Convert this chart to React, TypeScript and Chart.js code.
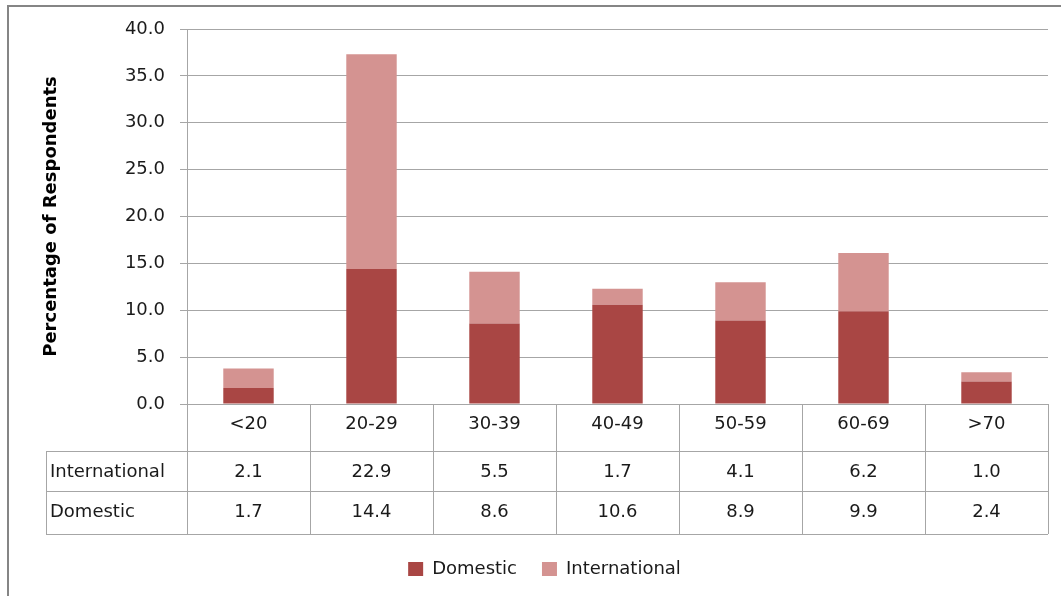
import React, { useEffect, useRef } from "react";
import { Chart, registerables } from "chart.js";

Chart.register(...registerables);

const categories = ["<20", "20-29", "30-39", "40-49", "50-59", "60-69", ">70"];
const domesticValues = [1.7, 14.4, 8.6, 10.6, 8.9, 9.9, 2.4];
const internationalValues = [2.1, 22.9, 5.5, 1.7, 4.1, 6.2, 1.0];
const yTicks = [0, 5, 10, 15, 20, 25, 30, 35, 40];

const FONT = "'DejaVu Sans', sans-serif";
const FONT_SIZE = 18;
const GRID = "#A6A6A6";
const TEXT = "#1a1a1a";
const DOM_COLOR = "#A94644";
const INT_COLOR = "#D49391";

const tablePlugin = {
  id: "dataTable",
  beforeDraw(chart: any) {
    const ctx = chart.ctx;
    ctx.save();
    ctx.fillStyle = "#ffffff";
    ctx.fillRect(0, 0, chart.width, chart.height);
    ctx.strokeStyle = "#858585";
    ctx.lineWidth = 2;
    ctx.strokeRect(8, 6, 1200, 900);
    ctx.restore();
  },
  afterDraw(chart: any) {
    const ctx = chart.ctx;
    const area = chart.chartArea;
    const xs = chart.scales.x;
    const n = categories.length;
    const colW = (area.right - area.left) / n;
    const top = area.bottom;
    const r1 = top + 47;
    const r2 = r1 + 40;
    const r3 = r2 + 43;
    const tableLeft = 46;
    ctx.save();
    ctx.strokeStyle = GRID;
    ctx.lineWidth = 1;
    ctx.beginPath();
    for (let i = 0; i <= n; i++) {
      const px = Math.round(area.left + i * colW) + 0.5;
      ctx.moveTo(px, top);
      ctx.lineTo(px, r3);
    }
    [r1, r2, r3].forEach((yy) => {
      const py = Math.round(yy) + 0.5;
      ctx.moveTo(tableLeft, py);
      ctx.lineTo(area.right, py);
    });
    ctx.moveTo(tableLeft + 0.5, r1);
    ctx.lineTo(tableLeft + 0.5, r3);
    ctx.stroke();

    const rows = [
      { label: "International", values: internationalValues, y: (r1 + r2) / 2 + 1 },
      { label: "Domestic", values: domesticValues, y: (r2 + r3) / 2 },
    ];
    ctx.fillStyle = TEXT;
    ctx.font = `${FONT_SIZE}px ${FONT}`;
    ctx.textBaseline = "middle";
    rows.forEach((row) => {
      ctx.textAlign = "left";
      ctx.fillText(row.label, tableLeft + 4, row.y);
      ctx.textAlign = "center";
      row.values.forEach((v, i) => {
        ctx.fillText(v.toFixed(1), xs.getPixelForValue(i), row.y);
      });
    });
    ctx.restore();
  },
};

export default function App() {
  const ref = useRef<HTMLCanvasElement>(null);
  useEffect(() => {
    const chart = new Chart(ref.current as HTMLCanvasElement, {
      type: "bar",
      data: {
        labels: categories,
        datasets: [
          {
            label: "Domestic",
            data: domesticValues,
            backgroundColor: DOM_COLOR,
            borderWidth: 0,
            barPercentage: 0.41,
            categoryPercentage: 1,
          },
          {
            label: "International",
            data: internationalValues,
            backgroundColor: INT_COLOR,
            borderWidth: 0,
            barPercentage: 0.41,
            categoryPercentage: 1,
          },
        ],
      },
      options: {
        animation: false,
        responsive: false,
        maintainAspectRatio: false,
        layout: { padding: { left: 41, top: 29, right: 13, bottom: 25 } },
        plugins: {
          tooltip: { enabled: false },
          legend: {
            position: "bottom",
            labels: {
              font: { family: FONT, size: FONT_SIZE },
              color: TEXT,
              boxWidth: 15,
              boxHeight: 14,
              padding: 25,
            },
          },
        },
        scales: {
          x: {
            stacked: true,
            grid: { display: false, drawTicks: false },
            border: { display: false },
            ticks: {
              font: { family: FONT, size: FONT_SIZE },
              color: TEXT,
              padding: 10,
              maxRotation: 0,
            },
            afterFit: (s: any) => {
              s.height = 131;
            },
          },
          y: {
            stacked: true,
            min: 0,
            max: 40,
            afterBuildTicks: (s: any) => {
              s.ticks = yTicks.map((v) => ({ value: v }));
            },
            grid: { color: GRID, lineWidth: 1, tickLength: 7 },
            border: { display: true, color: GRID, width: 1 },
            ticks: {
              font: { family: FONT, size: FONT_SIZE },
              color: TEXT,
              padding: 15,
              callback: (v: any) => Number(v).toFixed(1),
            },
            title: {
              display: true,
              text: "Percentage of Respondents",
              font: { family: FONT, size: 18, weight: "bold" },
              color: "#000",
              padding: 0,
            },
            afterFit: (s: any) => {
              s.width = 146;
            },
          },
        },
      },
      plugins: [tablePlugin],
    });
    return () => chart.destroy();
  }, []);
  return (
    <div style={{ position: "fixed", left: 0, top: 0, width: 1061, height: 613, background: "#fff" }}>
      <canvas ref={ref} width={1061} height={613} style={{ display: "block" }} />
    </div>
  );
}
